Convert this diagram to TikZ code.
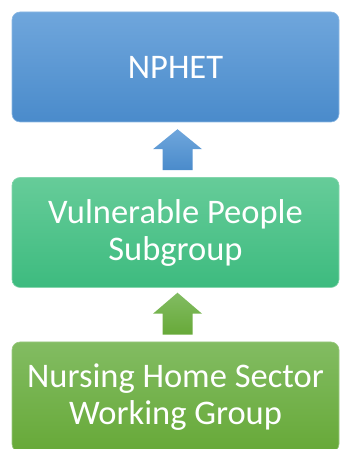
\documentclass[tikz,border=0pt]{standalone}
\usepackage{fontspec}
\setmainfont{Carlito}
\usetikzlibrary{calc}
\definecolor{blueT}{HTML}{6FA6DC}
\definecolor{blueB}{HTML}{4A8BCB}
\definecolor{greenT}{HTML}{66CC99}
\definecolor{greenB}{HTML}{3DBB7F}
\definecolor{leafT}{HTML}{82BC62}
\definecolor{leafB}{HTML}{67A938}
\tikzset{
  box/.style={rounded corners=8pt, minimum width=327pt, minimum height=110pt,
    inner sep=0pt, align=center, text=white,
    font=\fontsize{34.5}{37}\selectfont},
  bluebox/.style={box, top color=blueT, bottom color=blueB, draw=blueT!80!white, line width=0.6pt},
  greenbox/.style={box, top color=greenT, bottom color=greenB, draw=greenT!80!white, line width=0.6pt},
  leafbox/.style={box, top color=leafT, bottom color=leafB, draw=leafT!80!white, line width=0.6pt},
}
\begin{document}
\begin{tikzpicture}[x=1pt,y=1pt]
\useasboundingbox (0,0) rectangle (340,449);
\node[bluebox] (nphet) at (175.5,382) {NPHET};
\node[greenbox] (vps) at (175.5,216.5) {Vulnerable People\\Subgroup};
\node[leafbox] (nhs) at (175.5,52) {Nursing Home Sector\\Working Group};
% arrow from vps to nphet
\coordinate (a1) at ($(vps.north)+(2,7)$);
\shade[top color=blueT, bottom color=blueB]
  ($(a1)+(-15,0)$) -- ($(a1)+(-15,21)$) -- ($(a1)+(-24.5,21)$) -- ($(a1)+(0,41)$)
  -- ($(a1)+(24.5,21)$) -- ($(a1)+(15,21)$) -- ($(a1)+(15,0)$) -- cycle;
% arrow from nhs to vps
\coordinate (a2) at ($(nhs.north)+(2,7)$);
\shade[top color=leafT, bottom color=leafB]
  ($(a2)+(-15,0)$) -- ($(a2)+(-15,21)$) -- ($(a2)+(-24.5,21)$) -- ($(a2)+(0,42)$)
  -- ($(a2)+(24.5,21)$) -- ($(a2)+(15,21)$) -- ($(a2)+(15,0)$) -- cycle;
\end{tikzpicture}
\end{document}
